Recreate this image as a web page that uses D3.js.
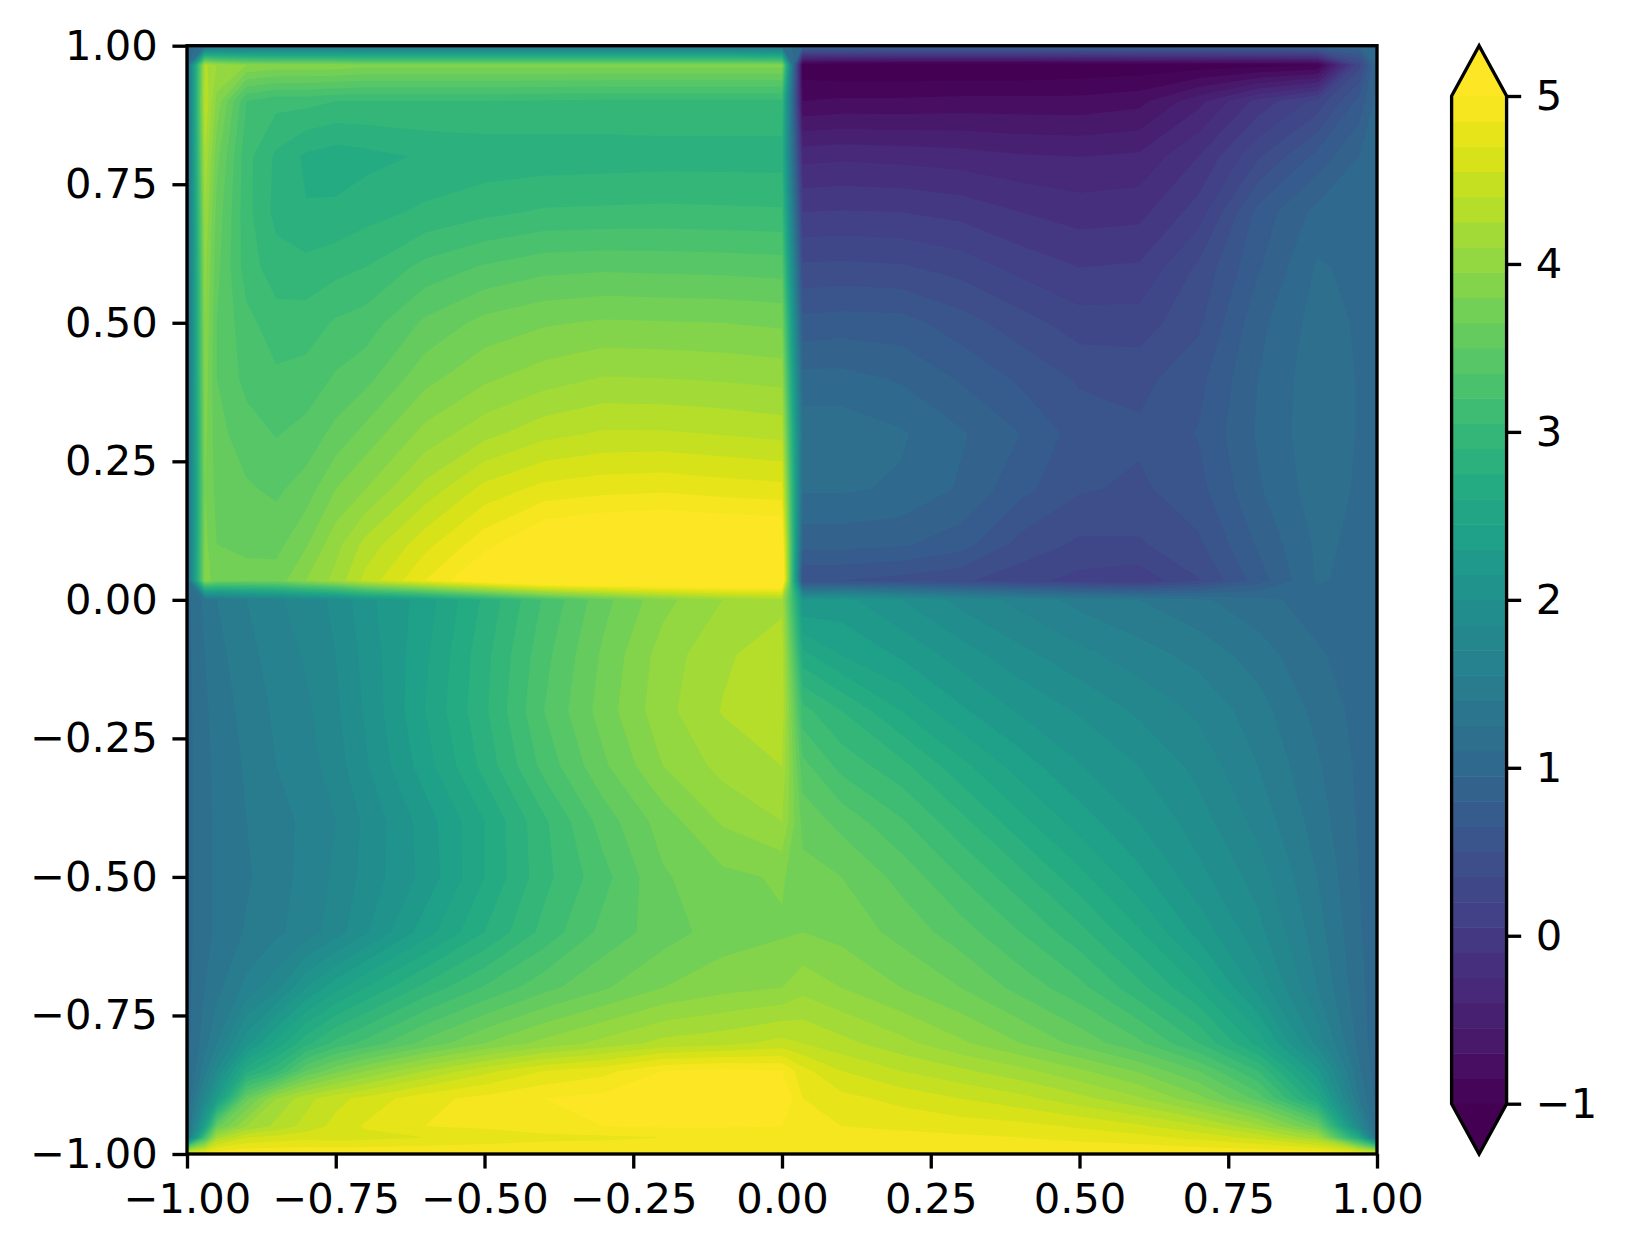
<!DOCTYPE html>
<html><head><meta charset="utf-8">
<style>html,body{margin:0;padding:0;background:#fff}svg{display:block}text{font-family:"DejaVu Sans";fill:#000}</style>
<script src="https://cdnjs.cloudflare.com/ajax/libs/d3/7.8.5/d3.min.js"></script>
</head><body><svg id="c" width="1627" height="1253"></svg>
<script>
const xNodes=[-1,-.97,-.95,-.9,-.85,-.8,-.75,-.7,-.6,-.5,-.4,-.3,-.2,-.1,0,.035,.1,.2,.3,.4,.5,.6,.7,.8,.9,.97,1];
const yNodes=[1,.965,.9,.8,.7,.6,.5,.4,.3,.2,.1,.035,0,-.1,-.2,-.3,-.4,-.5,-.6,-.7,-.8,-.85,-.9,-.95,-.97,-1];
const fieldRows=[
[1,1.2,1.25,1.3,1.3,1.3,1.3,1.3,1.3,1.3,1.3,1.3,1.3,1.3,1.2, 1,1,.95,.95,.95,.95,.95,.95,.95,.95,.95,1],
[1.1,4.3,4.1,3.95,3.9,3.9,3.9,3.85,3.85,3.85,3.85,3.85,3.85,3.85,3.85, -1.1,-1.15,-1.15,-1.15,-1.15,-1.12,-1.1,-1.08,-1.05,-1,.3,1],
[1.1,4.4,3.9,3.2,3.1,3.1,3.05,3.05,3.05,3.05,3.03,3.02,3.02,3.02,3.02, -.85,-.82,-.82,-.8,-.8,-.8,-.75,-.45,-.05,.25,.7,1],
[1.1,4.25,3.7,3.1,2.87,2.72,2.67,2.7,2.77,2.8,2.81,2.82,2.83,2.83,2.83, -.3,-.28,-.3,-.33,-.38,-.4,-.37,-.1,.33,.7,.95,1],
[1.1,4.1,3.6,3.1,2.85,2.76,2.78,2.84,2.93,3.01,3.07,3.08,3.09,3.08,3.07, .05,.06,.05,0,-.1,-.17,-.15,.12,.7,1,1.03,1],
[1.1,4,3.55,3.12,2.97,2.95,3,3.05,3.25,3.37,3.45,3.47,3.46,3.45,3.43, .38,.39,.37,.29,.15,.05,.07,.38,.78,1.12,1.06,1],
[1.1,3.95,3.5,3.25,3.11,3.12,3.22,3.27,3.53,3.7,3.78,3.82,3.81,3.8,3.77, .7,.72,.71,.57,.42,.27,.27,.47,.9,1.17,1.08,1],
[1.1,3.9,3.5,3.3,3.23,3.26,3.37,3.45,3.75,3.92,4.03,4.11,4.1,4.08,4.05, 1,1,.93,.78,.62,.48,.45,.6,.95,1.2,1.09,1],
[1.1,3.85,3.55,3.42,3.34,3.4,3.55,3.7,4,4.2,4.35,4.42,4.42,4.39,4.35, 1.2,1.2,1.12,.97,.8,.58,.53,.66,.97,1.2,1.09,1],
[1.1,3.8,3.6,3.52,3.47,3.57,3.8,3.95,4.3,4.6,4.75,4.8,4.82,4.78,4.75, 1.12,1.12,1.08,.93,.7,.52,.47,.6,.93,1.18,1.08,1],
[1.1,3.85,3.65,3.62,3.6,3.78,4.05,4.3,4.65,4.95,5.2,5.27,5.3,5.27,5.25, .85,.85,.82,.72,.45,.32,.33,.47,.82,1.13,1.07,1],
[1.1,3.9,3.7,3.7,3.72,3.95,4.15,4.45,4.85,5.2,5.5,5.5,5.5,5.5,5.5, .5,.5,.45,.38,.26,.15,.1,.34,.72,1.12,1.05,1],
[1.05,1.3,1.4,1.55,1.67,1.78,1.88,2.1,2.37,2.78,3.22,3.6,3.9,4.1,4.2, 2.15,2.2,2,1.8,1.65,1.5,1.4,1.28,1.15,1.03,1,1],
[1.05,1.25,1.35,1.5,1.62,1.72,1.85,2.05,2.42,2.85,3.3,3.68,4.02,4.22,4.35, 2.65,2.45,2.28,2.08,1.9,1.75,1.62,1.5,1.33,1.12,1.03,1],
[1.05,1.22,1.32,1.45,1.58,1.67,1.82,2.02,2.45,2.87,3.35,3.72,4.05,4.26,4.35, 3.1,2.9,2.6,2.33,2.13,1.98,1.82,1.67,1.47,1.2,1.05,1],
[1.05,1.2,1.3,1.42,1.55,1.63,1.78,1.98,2.38,2.8,3.25,3.62,3.95,4.15,4.25, 3.4,3.15,2.95,2.65,2.38,2.16,2,1.8,1.55,1.27,1.07,1],
[1.05,1.2,1.28,1.4,1.5,1.58,1.7,1.88,2.22,2.6,3.02,3.42,3.72,3.97,4.1, 3.6,3.45,3.22,2.95,2.65,2.38,2.15,1.92,1.65,1.33,1.08,1],
[1.05,1.2,1.28,1.38,1.49,1.6,1.73,1.9,2.2,2.6,3,3.3,3.63,3.76,3.82, 3.7,3.65,3.45,3.2,2.95,2.65,2.35,2.05,1.78,1.4,1.1,1],
[1.05,1.2,1.28,1.42,1.52,1.62,1.78,1.98,2.38,2.75,3.1,3.4,3.58,3.72,3.78, 3.8,3.75,3.6,3.42,3.2,2.95,2.62,2.25,1.9,1.47,1.12,1],
[1.05,1.25,1.35,1.6,1.8,2.15,2.4,2.6,2.95,3.22,3.45,3.63,3.8,3.9,3.95, 4.05,3.95,3.8,3.65,3.45,3.25,2.95,2.6,2.1,1.55,1.15,1],
[1.05,1.35,1.55,2.1,2.5,2.85,3.1,3.25,3.55,3.8,4,4.15,4.3,4.35,4.45, 4.4,4.3,4.15,3.98,3.8,3.6,3.38,3.05,2.55,1.8,1.2,1],
[1.05,1.5,1.85,2.7,3,3.5,3.75,3.95,4.25,4.5,4.7,4.8,5,5.05,5, 4.75,4.55,4.4,4.28,4.15,3.98,3.78,3.5,3.05,2.2,1.28,1],
[1.1,1.8,2.3,3.6,4.1,4.35,4.5,4.6,4.8,4.9,5,5.05,5.1,5.15,5.15, 4.85,4.75,4.65,4.55,4.45,4.3,4.12,3.85,3.45,2.6,1.4,1.05],
[1.2,2.4,3.6,4.1,4.3,4.45,4.6,4.72,4.85,4.88,4.95,5,5.02,5.02,5, 4.92,4.85,4.82,4.78,4.75,4.68,4.58,4.42,4.15,3.6,1.8,1.1],
[1.3,3.2,4.2,4.55,4.6,4.65,4.62,4.65,4.7,4.75,4.8,4.82,4.85,4.85,4.85, 4.9,4.9,4.9,4.88,4.85,4.8,4.75,4.65,4.5,4.15,2.6,1.2],
[4.9,4.95,5,5,5,5,5,5,5,5,5,5,5,5,5, 5,5,5,5,5,5,5,5,5,5,4.95,4.9]
];
const levels=d3.range(41).map(i=>-1+i*.15);
const xTicks=[-1,-.75,-.5,-.25,0,.25,.5,.75,1];
const yTicks=[-1,-.75,-.5,-.25,0,.25,.5,.75,1];
const barTicks=[-1,0,1,2,3,4,5];

const plot={l:187,r:1377,t:45.7,b:1154};
const bar={l:1451.6,r:1506.6,t:96,b:1103.7,tipT:45.7,tipB:1154};
const lw=3.33,tickLen=14.58,pad=14.58,fs=41.67;
const svg=d3.select('#c');
const x=d3.scaleLinear().domain([-1,1]).range([plot.l,plot.r]);
const y=d3.scaleLinear().domain([-1,1]).range([plot.b,plot.t]);
const cmap=t=>d3.interpolateViridis(t);
const norm=d3.scaleLinear().domain([-1,5]).range([0,1]);
const bandColor=i=>i>=levels.length-1?cmap(1):cmap(norm((levels[i]+levels[i+1])/2));

const nx=xNodes.length,ny=yNodes.length;
const ix=d3.scaleLinear().domain(d3.range(nx)).range(xNodes).clamp(true);
const iy=d3.scaleLinear().domain(d3.range(ny)).range(yNodes).clamp(true);
const path=d3.geoPath(d3.geoTransform({point(u,v){this.stream.point(x(ix(u-.5)),y(iy(v-.5)));}}));
const contours=d3.contours().size([nx,ny]).thresholds(levels)(fieldRows.flat());

svg.append('rect').attr('x',plot.l).attr('y',plot.t).attr('width',plot.r-plot.l).attr('height',plot.b-plot.t).attr('fill',cmap(0));
svg.append('g').selectAll('path').data(contours).join('path')
  .attr('d',path).attr('fill',(d,i)=>bandColor(i));

const styleAxis=g=>{
  g.selectAll('.domain').remove();
  g.selectAll('line').attr('stroke','#000').attr('stroke-width',lw);
  g.selectAll('text').attr('font-size',fs).attr('font-family','DejaVu Sans').attr('fill','#000');
};
const minus=s=>s.replace('-','\u2212');
svg.append('g').attr('transform',`translate(0,${plot.b})`)
  .call(d3.axisBottom(x).tickValues(xTicks).tickFormat(d=>minus(d3.format('.2f')(d))).tickSize(tickLen).tickPadding(pad))
  .call(styleAxis);
svg.append('g').attr('transform',`translate(${plot.l},0)`)
  .call(d3.axisLeft(y).tickValues(yTicks).tickFormat(d=>minus(d3.format('.2f')(d))).tickSize(tickLen).tickPadding(pad))
  .call(styleAxis);
svg.append('rect').attr('x',plot.l).attr('y',plot.t).attr('width',plot.r-plot.l).attr('height',plot.b-plot.t)
  .attr('fill','none').attr('stroke','#000').attr('stroke-width',lw);

// colour bar
const by=d3.scaleLinear().domain([-1,5]).range([bar.b,bar.t]);
const mid=(bar.l+bar.r)/2;
svg.append('g').selectAll('rect').data(levels.slice(0,-1)).join('rect')
  .attr('x',bar.l).attr('width',bar.r-bar.l)
  .attr('y',(d,i)=>by(levels[i+1])).attr('height',(d,i)=>by(levels[i])-by(levels[i+1])+.5)
  .attr('fill',(d,i)=>bandColor(i));
svg.append('path').attr('d',`M${bar.l},${bar.t}L${mid},${bar.tipT}L${bar.r},${bar.t}Z`).attr('fill',cmap(1));
svg.append('path').attr('d',`M${bar.l},${bar.b}L${mid},${bar.tipB}L${bar.r},${bar.b}Z`).attr('fill',cmap(0));
svg.append('path').attr('d',`M${bar.l},${bar.t}L${mid},${bar.tipT}L${bar.r},${bar.t}L${bar.r},${bar.b}L${mid},${bar.tipB}L${bar.l},${bar.b}Z`)
  .attr('fill','none').attr('stroke','#000').attr('stroke-width',lw);
svg.append('g').attr('transform',`translate(${bar.r},0)`)
  .call(d3.axisRight(by).tickValues(barTicks).tickFormat(d=>minus(String(d))).tickSize(tickLen).tickPadding(pad))
  .call(styleAxis);
</script></body></html>
